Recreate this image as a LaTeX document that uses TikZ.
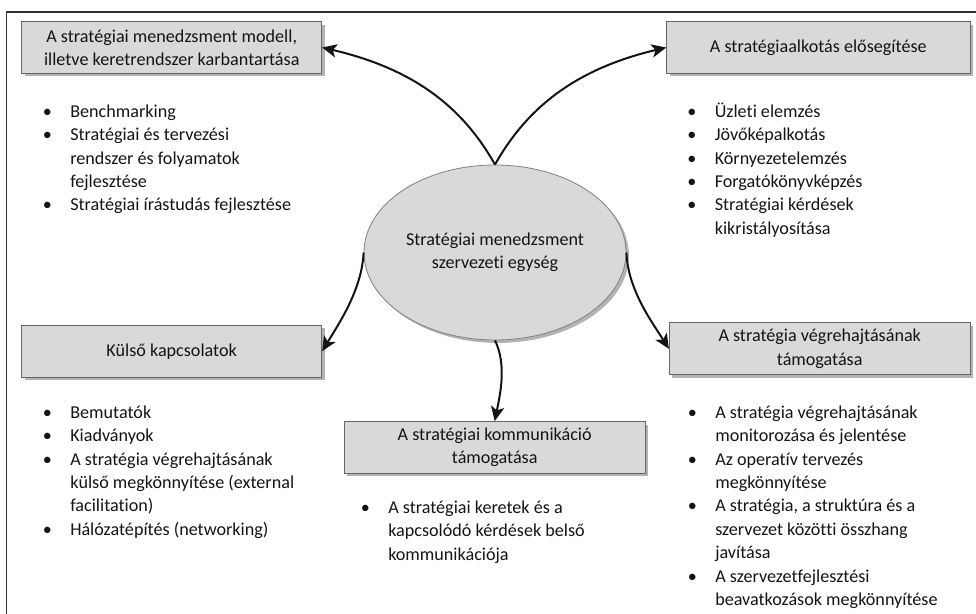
\documentclass[tikz,border=0pt]{standalone}
\usepackage{fontspec}
\setmainfont{Carlito}[Ligatures={NoCommon}]
\usepackage{array}
\usetikzlibrary{shapes.geometric,shadows,arrows.meta}
\newcommand\myfont{\fontsize{13.6pt}{17.55pt}\selectfont}
\newcommand\bl{\textbullet}
\newenvironment{blist}{\begin{tabular}[t]{@{}>{\centering\arraybackslash}p{18pt}@{\hspace{8.25pt}}l@{}}}{\end{tabular}}
\tikzset{
  box/.style={draw=black!60, line width=0.7pt, fill=black!15, minimum width=225pt,
    minimum height=38.8pt, inner sep=0pt, align=center, font=\myfont, text=black!92,
    drop shadow={shadow xshift=2.2pt, shadow yshift=-2.2pt, fill=black!50, opacity=0.6}},
  hub/.style={ellipse, draw=black!50, line width=0.6pt, fill=black!15, minimum width=196.5pt,
    minimum height=131.25pt, inner sep=0pt, align=center, font=\myfont, text=black!92,
    drop shadow={shadow xshift=2.2pt, shadow yshift=-2.2pt, fill=black!50, opacity=0.6}},
  lst/.style={anchor=base west, inner sep=0pt, font=\myfont, text=black!92},
  arr/.style={-{Stealth[length=11pt,width=10pt,inset=2.8pt]}, line width=1.5pt, black!92}
}
\begin{document}
\begin{tikzpicture}[x=0.75pt,y=-0.75pt]
\useasboundingbox (0,0) rectangle (976,614);
\draw[line width=1.2pt, black!80] (6.5,616) -- (6.5,12) -- (978,12);

\node[hub] (ell) at (495,252.5) {Stratégiai menedzsment\\szervezeti egység};

\node[box] (b1) at (171.7,47.5) {A stratégiai menedzsment modell,\\illetve keretrendszer karbantartása};
\node[box, minimum width=227.5pt] (b2) at (818.3,47.5) {A stratégiaalkotás elősegítése};
\node[box] (b3) at (171.7,351.2) {Külső kapcsolatok};
\node[box, minimum width=225.5pt] (b4) at (494.7,447.5) {A stratégiai kommunikáció\\támogatása};
\node[box, minimum width=225.5pt] (b5) at (819.7,348.8) {A stratégia végrehajtásának\\támogatása};

\node[lst] (l1) at (35,117.3) {\begin{blist}
\bl & Benchmarking\\
\bl & Stratégiai és tervezési\\
 & rendszer és folyamatok\\
 & fejlesztése\\
\bl & Stratégiai írástudás fejlesztése
\end{blist}};

\node[lst] (l2) at (679.5,117.3) {\begin{blist}
\bl & Üzleti elemzés\\
\bl & Jövőképalkotás\\
\bl & Környezetelemzés\\
\bl & Forgatókönyvképzés\\
\bl & Stratégiai kérdések\\
 & kikristályosítása
\end{blist}};

\node[lst] (l3) at (35,418.3) {\begin{blist}
\bl & Bemutatók\\
\bl & Kiadványok\\
\bl & A stratégia végrehajtásának\\
 & külső megkönnyítése (external\\
 & facilitation)\\
\bl & Hálózatépítés (networking)
\end{blist}};

\node[lst] (l4) at (353,513.3) {\begin{blist}
\bl & A stratégiai keretek és a\\
 & kapcsolódó kérdések belső\\
 & kommunikációja
\end{blist}};

\node[lst] (l5) at (680,418.3) {\begin{blist}
\bl & A stratégia végrehajtásának\\
 & monitorozása és jelentése\\
\bl & Az operatív tervezés\\
 & megkönnyítése\\
\bl & A stratégia, a struktúra és a\\
 & szervezet közötti összhang\\
 & javítása\\
\bl & A szervezetfejlesztési\\
 & beavatkozások megkönnyítése
\end{blist}};

\draw[arr] (ell.north) .. controls (461,104) and (410,68) .. (b1.east);
\draw[arr] (ell.north) .. controls (529,104) and (580,68) .. (b2.west);
\draw[arr] (ell.west) .. controls (362,290) and (338,325) .. (b3.east);
\draw[arr] (ell.south) .. controls (507,365) and (500,395) .. (b4.north);
\draw[arr] (ell.east) .. controls (628,290) and (652,322) .. (b5.west);
\end{tikzpicture}
\end{document}
